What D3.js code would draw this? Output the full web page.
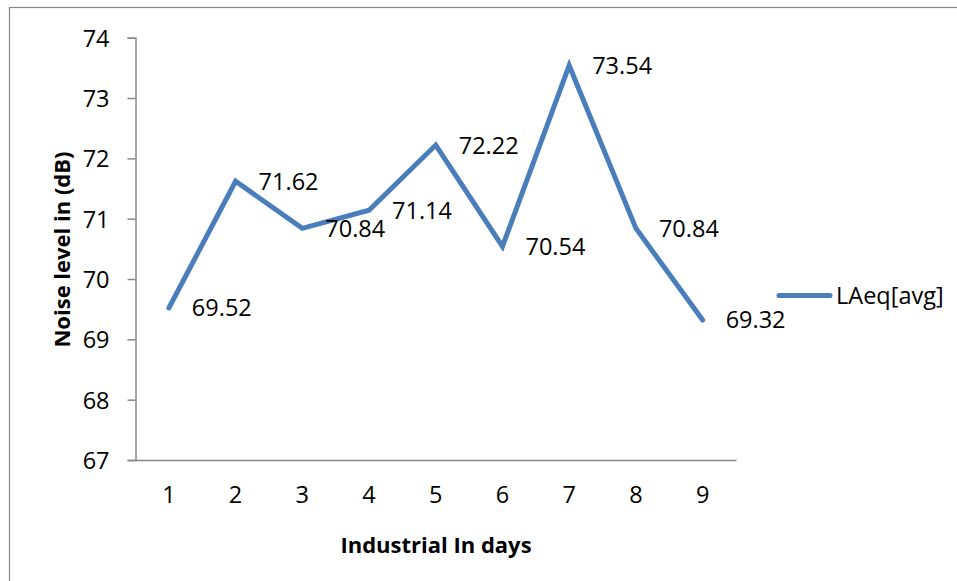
<!DOCTYPE html>
<html>
<head>
<meta charset="utf-8">
<script src="https://cdn.jsdelivr.net/npm/d3@7/dist/d3.min.js"></script>
<style>
  html, body { margin: 0; padding: 0; background: #fff; }
  svg { display: block; }
  text { font-family: "Open Sans", "Liberation Sans", sans-serif; fill: #000; }
</style>
</head>
<body>
<svg id="chart" width="957" height="581"></svg>
<script>
const days = ["1", "2", "3", "4", "5", "6", "7", "8", "9"];
const laeqAvg = [69.52, 71.62, 70.84, 71.14, 72.22, 70.54, 73.54, 70.84, 69.32];
const yTicks = [67, 68, 69, 70, 71, 72, 73, 74];
const seriesName = "LAeq[avg]";
const xTitle = "Industrial In days";
const yTitle = "Noise level in (dB)";

const svg = d3.select("#chart");
const plot = { left: 135.5, right: 736, top: 37.7, bottom: 460 };
const lineColor = "#4A7EBB";
const axisColor = "#888888";
const fs = 23.5;

// outer border
svg.append("rect")
  .attr("x", 9.5).attr("y", 7.5)
  .attr("width", 1000).attr("height", 1000)
  .attr("fill", "none").attr("stroke", axisColor).attr("stroke-width", 1.2);

const x = d3.scaleBand().domain(days).range([plot.left, plot.right]).padding(0);
const y = d3.scaleLinear().domain([67, 74]).range([plot.bottom, plot.top]);

// y axis
const yAxis = svg.append("g")
  .attr("transform", `translate(${plot.left},0)`)
  .call(d3.axisLeft(y).tickValues(yTicks).tickSize(8).tickPadding(18).tickFormat(d3.format("d")));
yAxis.select(".domain").attr("stroke", axisColor).attr("stroke-width", 1.5);
yAxis.selectAll(".tick line").attr("stroke", axisColor).attr("stroke-width", 1.5);
yAxis.selectAll(".tick text").attr("font-size", fs).attr("font-family", "Open Sans").attr("dy", "0.36em");

// x axis
const xAxis = svg.append("g")
  .attr("transform", `translate(0,${plot.bottom})`)
  .call(d3.axisBottom(x).tickSize(0).tickPadding(26));
xAxis.select(".domain").attr("stroke", axisColor).attr("stroke-width", 1.5);
xAxis.selectAll(".tick text").attr("font-size", fs).attr("font-family", "Open Sans");

// line
const line = d3.line()
  .x((d, i) => x(days[i]) + x.bandwidth() / 2)
  .y(d => y(d));
svg.append("path")
  .datum(laeqAvg)
  .attr("d", line)
  .attr("fill", "none")
  .attr("stroke", lineColor)
  .attr("stroke-width", 5)
  .attr("stroke-linejoin", "miter")
  .attr("stroke-linecap", "round");

// data labels (right of point)
svg.append("g").selectAll("text")
  .data(laeqAvg)
  .join("text")
  .attr("x", (d, i) => x(days[i]) + x.bandwidth() / 2 + 23)
  .attr("y", d => y(d))
  .attr("dy", "0.36em")
  .attr("font-size", fs)
  .text(d => d.toFixed(2));

// axis titles
svg.append("text")
  .attr("x", 436).attr("y", 553)
  .attr("text-anchor", "middle")
  .attr("font-size", 22)
  .attr("font-weight", "bold")
  .text(xTitle);

svg.append("text")
  .attr("transform", "translate(70,249.5) rotate(-90)")
  .attr("text-anchor", "middle")
  .attr("font-size", 22)
  .attr("font-weight", "bold")
  .text(yTitle);

// legend
const lg = svg.append("g");
lg.append("line")
  .attr("x1", 779).attr("x2", 830)
  .attr("y1", 295.5).attr("y2", 295.5)
  .attr("stroke", lineColor).attr("stroke-width", 5).attr("stroke-linecap", "round");
lg.append("text")
  .attr("x", 836).attr("y", 304)
  .attr("font-size", fs)
  .text(seriesName);
</script>
</body>
</html>
